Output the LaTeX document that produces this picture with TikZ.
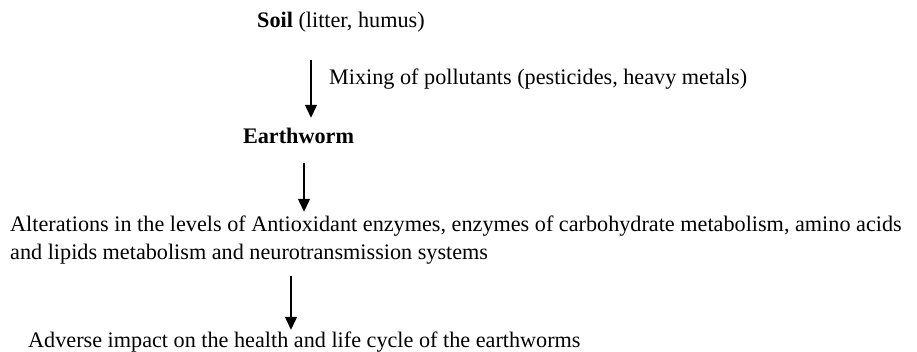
\documentclass[tikz,border=0pt]{standalone}
\usepackage{fontspec}
\setmainfont{Liberation Serif}
\usetikzlibrary{arrows.meta}
\begin{document}
\begin{tikzpicture}[x=1pt,y=-1pt,
  txt/.style={inner sep=0pt, text height=16pt, text depth=5pt, font=\fontsize{22.2}{28}\selectfont},
  arr/.style={-{Triangle[length=13pt,width=12pt]}, line width=1.3pt, black}]
\useasboundingbox (0,0) rectangle (917,352);
\node[txt, anchor=base west] (soil) at (257,28) {\textbf{Soil} (litter, humus)};
\node[txt, anchor=base west] (mix) at (329,85) {Mixing of pollutants (pesticides, heavy metals)};
\node[txt, anchor=base] (earth) at (298.5,144) {\textbf{Earthworm}};
\node[txt, anchor=base west] (alt1) at (10,232) {Alterations in the levels of Antioxidant enzymes, enzymes of carbohydrate metabolism, amino acids};
\node[txt, anchor=base west] (alt2) at (10,260) {and lipids metabolism and neurotransmission systems};
\node[txt, anchor=base west] (adv) at (28,347) {Adverse impact on the health and life cycle of the earthworms};
\draw[arr, shorten <=27pt, shorten >=10pt] ([xshift=54pt]soil.south west) -- ([xshift=12.5pt]earth.north);
\draw[arr, shorten <=14pt, shorten >=4pt] ([xshift=5.5pt]earth.south) -- ([xshift=294pt]alt1.north west);
\draw[arr, shorten <=11pt, shorten >=1pt] ([xshift=281pt]alt2.south west) -- ([xshift=263pt]adv.north west);
\end{tikzpicture}
\end{document}
